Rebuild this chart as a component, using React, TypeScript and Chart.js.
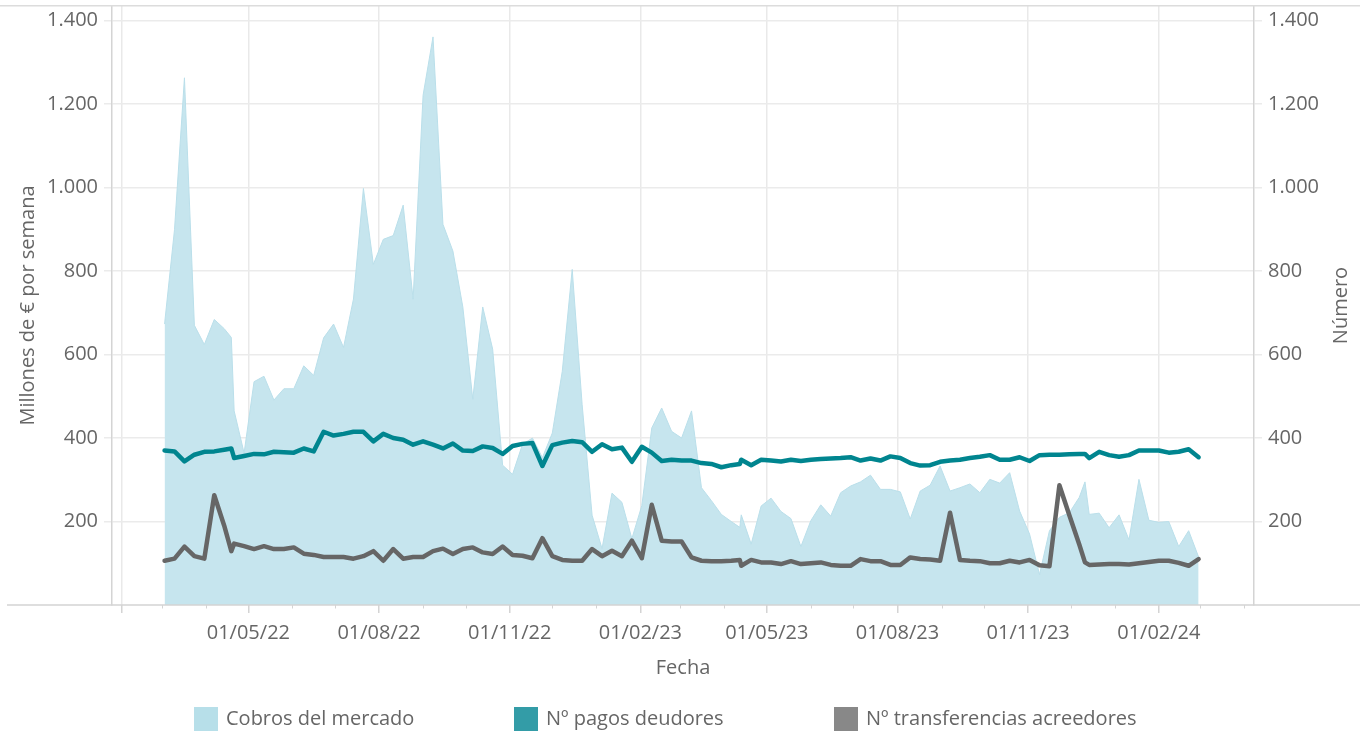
import React, { useEffect, useRef } from 'react';
import { Chart, registerables } from 'chart.js';

Chart.register(...registerables);

// ---------- DATA ----------
// Weekly observations (Thursdays) plus three irregular extra dates
const inicioSemanal = '2022-03-03';
const numSemanas = 105;
const fechasExtra = ['2022-04-19', '2023-04-12', '2023-12-11'];

// Cobros del mercado (millones de € por semana)
const cobrosMercado = [
  673, 899, 1263, 670, 624, 684, 662,
  641,
  465, 364, 535, 548, 491, 518, 518, 573, 550, 640,
  673, 617, 733, 998, 816, 876, 885, 958, 733, 1221,
  1361, 912, 848, 714, 493, 714, 613, 335, 313, 385,
  400, 353, 412, 560, 804, 480, 215, 135, 268, 246,
  159, 238, 424, 472, 416, 400, 465, 281, 250, 217, 200,
  186,
  216, 146, 237, 256, 224, 207, 140, 202, 240, 213,
  269, 285, 295, 311, 277, 277, 271, 206, 273, 287,
  333, 273, 281, 290, 269, 301, 292, 317, 225, 170,
  73, 178, 210, 221, 258,
  295,
  217, 220, 185, 216, 156, 301, 203, 198, 200, 140, 178, 115,
];

// Nº pagos deudores
const pagosDeudores = [
  370, 368, 344, 360, 367, 368, 372,
  375,
  352, 357, 362, 361, 367, 366, 365, 375, 368, 415,
  406, 410, 415, 415, 392, 410, 400, 396, 384, 392,
  384, 375, 387, 370, 369, 380, 376, 362, 381, 386,
  388, 333, 383, 389, 393, 390, 367, 385, 373, 377,
  343, 379, 365, 345, 348, 346, 346, 340, 338, 330, 335,
  338,
  348, 335, 348, 346, 344, 348, 345, 348, 350, 351,
  352, 354, 346, 351, 346, 356, 352, 340, 334, 335,
  343, 346, 348, 352, 355, 359, 348, 348, 354, 345,
  359, 360, 360, 361, 362,
  362,
  352, 367, 359, 355, 359, 370, 370, 370, 365, 367, 373, 354,
];

// Nº transferencias acreedores
const transferenciasAcreedores = [
  106, 111, 140, 117, 111, 263, 190,
  129,
  147, 141, 134, 141, 134, 134, 138, 123, 120, 115,
  115, 115, 111, 117, 129, 106, 134, 111, 115, 115,
  129, 135, 122, 134, 138, 126, 122, 140, 120, 118,
  112, 160, 117, 108, 106, 106, 134, 117, 130, 117,
  154, 112, 240, 154, 152, 152, 114, 106, 105, 105, 106,
  108,
  94, 108, 102, 102, 98, 105, 98, 100, 102, 96,
  94, 94, 110, 105, 105, 96, 96, 114, 110, 109,
  106, 221, 108, 106, 105, 100, 100, 106, 102, 108,
  95, 93, 287, 215, 145,
  102,
  96, 97, 98, 98, 97, 100, 103, 106, 106, 101, 94, 110,
];

const ticksY = [0, 200, 400, 600, 800, 1000, 1200, 1400];
const maxY = 1435;
const ejeXInicio = '2022-01-25';
const ejeXFin = '2024-04-08';
const primerMes = '2022-02-01';
const ultimoMes = '2024-04-01';
const mesesPrincipales = [1, 4, 7, 10]; // feb, may, ago, nov (0-based)

const etiquetas = {
  serie1: 'Cobros del mercado',
  serie2: 'Nº pagos deudores',
  serie3: 'Nº transferencias acreedores',
  ejeX: 'Fecha',
  ejeY: 'Millones de € por semana',
  ejeY2: 'Número',
};

// ---------- HELPERS ----------
const DAY = 86400000;
const toDay = (s: string) => {
  const [y, m, d] = s.split('-').map(Number);
  return Date.UTC(y, m - 1, d) / DAY;
};

function buildFechas(): number[] {
  const start = toDay(inicioSemanal);
  const arr: number[] = [];
  for (let i = 0; i < numSemanas; i++) arr.push(start + 7 * i);
  fechasExtra.forEach((f) => arr.push(toDay(f)));
  return arr.sort((a, b) => a - b);
}

function buildMonthTicks(): number[] {
  const out: number[] = [];
  const s = new Date(toDay(primerMes) * DAY);
  const e = toDay(ultimoMes);
  let y = s.getUTCFullYear();
  let m = s.getUTCMonth();
  while (true) {
    const v = Date.UTC(y, m, 1) / DAY;
    if (v > e) break;
    out.push(v);
    m++;
    if (m > 11) { m = 0; y++; }
  }
  return out;
}

const isMajor = (v: number) => {
  const d = new Date(v * DAY);
  return d.getUTCDate() === 1 && mesesPrincipales.includes(d.getUTCMonth());
};

const fmtFecha = (v: number) => {
  const d = new Date(v * DAY);
  const dd = String(d.getUTCDate()).padStart(2, '0');
  const mm = String(d.getUTCMonth() + 1).padStart(2, '0');
  const yy = String(d.getUTCFullYear() % 100).padStart(2, '0');
  return `${dd}/${mm}/${yy}`;
};

const fmtNum = (v: number) => {
  if (v === 0) return '';
  return String(v).replace(/\B(?=(\d{3})+(?!\d))/g, '.');
};

const FONT = '"Open Sans", "Noto Sans", sans-serif';
const TXT = '#666666';
const FS = 20;

export default function App() {
  const ref = useRef<HTMLCanvasElement>(null);

  useEffect(() => {
    const canvas = ref.current;
    if (!canvas) return;
    const fechas = buildFechas();
    const toPts = (vals: number[]) => vals.map((v, i) => ({ x: fechas[i], y: v }));
    const mesTicks = buildMonthTicks();
    const firstTick = mesTicks[0];

    const decor = {
      id: 'decor',
      afterDraw(chart: any) {
        const { ctx } = chart;
        const xs = chart.scales.x;
        const ca = chart.chartArea;
        ctx.save();
        // frame lines
        ctx.fillStyle = '#dcdcdc';
        ctx.fillRect(0, ca.top - 1, 1360, 1.5);
        ctx.fillStyle = '#d4d4d4';
        ctx.fillRect(7, ca.bottom - 0.75, 1353, 1.5);
        // minor month ticks
        ctx.strokeStyle = '#d4d4d4';
        ctx.lineWidth = 1;
        mesTicks.forEach((v) => {
          if (isMajor(v)) return;
          const px = Math.round(xs.getPixelForValue(v)) + 0.5;
          ctx.beginPath();
          ctx.moveTo(px, ca.bottom);
          ctx.lineTo(px, ca.bottom + 3.5);
          ctx.stroke();
        });
        // right axis title
        ctx.fillStyle = TXT;
        ctx.font = `${FS}px ${FONT}`;
        ctx.textAlign = 'center';
        ctx.textBaseline = 'middle';
        ctx.save();
        ctx.translate(1341, (ca.top + ca.bottom) / 2);
        ctx.rotate(-Math.PI / 2);
        ctx.fillText(etiquetas.ejeY2, 0, 0);
        ctx.restore();
        // legend
        const items = [
          { c: '#b7dfe9', t: etiquetas.serie1, x: 194 },
          { c: '#339ca7', t: etiquetas.serie2, x: 514 },
          { c: '#888888', t: etiquetas.serie3, x: 834 },
        ];
        ctx.textAlign = 'left';
        items.forEach((it) => {
          ctx.fillStyle = it.c;
          ctx.fillRect(it.x, 707, 24, 24);
          ctx.fillStyle = TXT;
          ctx.fillText(it.t, it.x + 32, 719);
        });
        ctx.restore();
      },
    };

    const chart = new Chart(canvas, {
      type: 'line',
      data: {
        datasets: [
          {
            label: etiquetas.serie1,
            data: toPts(cobrosMercado),
            yAxisID: 'y',
            fill: 'origin',
            backgroundColor: 'rgb(198,229,238)',
            borderColor: 'rgb(186,223,234)',
            borderWidth: 1,
            pointRadius: 0,
            tension: 0,
            order: 3,
          },
          {
            label: etiquetas.serie2,
            data: toPts(pagosDeudores),
            yAxisID: 'y1',
            fill: false,
            borderColor: '#00858f',
            borderWidth: 4.5,
            pointRadius: 0,
            tension: 0,
            borderJoinStyle: 'round',
            borderCapStyle: 'round',
            order: 2,
          },
          {
            label: etiquetas.serie3,
            data: toPts(transferenciasAcreedores),
            yAxisID: 'y1',
            fill: false,
            borderColor: '#666666',
            borderWidth: 4.5,
            pointRadius: 0,
            tension: 0,
            borderJoinStyle: 'round',
            borderCapStyle: 'round',
            order: 1,
          },
        ],
      },
      options: {
        animation: false,
        responsive: false,
        layout: { padding: { top: 6, bottom: 56, left: 0, right: 0 } },
        plugins: { legend: { display: false }, tooltip: { enabled: false } },
        scales: {
          x: {
            type: 'linear',
            position: 'bottom',
            min: toDay(ejeXInicio),
            max: toDay(ejeXFin),
            afterBuildTicks: (s: any) => {
              s.ticks = mesTicks.map((v) => ({ value: v }));
            },
            afterFit: (s: any) => {
              s.height = 75;
              s.paddingLeft = 0;
              s.paddingRight = 0;
            },
            ticks: {
              autoSkip: false,
              maxRotation: 0,
              minRotation: 0,
              padding: 8,
              color: TXT,
              font: { family: FONT, size: FS },
              callback: (v: any) => (isMajor(v) && v !== firstTick ? fmtFecha(v) : ''),
            },
            grid: {
              color: (c: any) => (c.tick && isMajor(c.tick.value) ? '#e9e9e9' : 'rgba(0,0,0,0)'),
              tickColor: (c: any) => (c.tick && isMajor(c.tick.value) ? '#d4d4d4' : 'rgba(0,0,0,0)'),
              lineWidth: 1.5,
              tickLength: 8,
            },
            border: { display: false },
            title: {
              display: true,
              text: etiquetas.ejeX,
              color: TXT,
              font: { family: FONT, size: FS },
              padding: { top: 0, bottom: 0 },
            },
          },
          y: {
            position: 'left',
            min: 0,
            max: maxY,
            afterBuildTicks: (s: any) => {
              s.ticks = ticksY.map((v) => ({ value: v }));
            },
            afterFit: (s: any) => {
              s.width = 112;
              s.paddingTop = 0;
              s.paddingBottom = 0;
            },
            ticks: {
              padding: 6,
              color: TXT,
              font: { family: FONT, size: FS },
              callback: (v: any) => fmtNum(Number(v)),
            },
            grid: {
              color: (c: any) => (c.tick && c.tick.value === 0 ? 'rgba(0,0,0,0)' : '#ebebeb'),
              lineWidth: 1.5,
              tickLength: 8,
            },
            border: { display: true, color: '#d4d4d4', width: 1.5 },
            title: {
              display: true,
              text: etiquetas.ejeY,
              color: TXT,
              font: { family: FONT, size: FS },
              padding: { top: 16, bottom: 0 },
            },
          },
          y1: {
            position: 'right',
            min: 0,
            max: maxY,
            afterBuildTicks: (s: any) => {
              s.ticks = ticksY.map((v) => ({ value: v }));
            },
            afterFit: (s: any) => {
              s.width = 113;
              s.paddingTop = 0;
              s.paddingBottom = 0;
            },
            ticks: {
              padding: 6,
              color: TXT,
              font: { family: FONT, size: FS },
              callback: (v: any) => fmtNum(Number(v)),
            },
            grid: {
              drawOnChartArea: false,
              color: (c: any) => (c.tick && c.tick.value === 0 ? 'rgba(0,0,0,0)' : '#ebebeb'),
              lineWidth: 1.5,
              tickLength: 8,
            },
            border: { display: true, color: '#d4d4d4', width: 1.5 },
          },
        },
      } as any,
      plugins: [decor],
    });

    return () => chart.destroy();
  }, []);

  return (
    <div style={{ position: 'absolute', left: 0, top: 0, width: 1367, height: 736, background: '#ffffff' }}>
      <canvas ref={ref} width={1367} height={736} style={{ display: 'block' }} />
    </div>
  );
}
